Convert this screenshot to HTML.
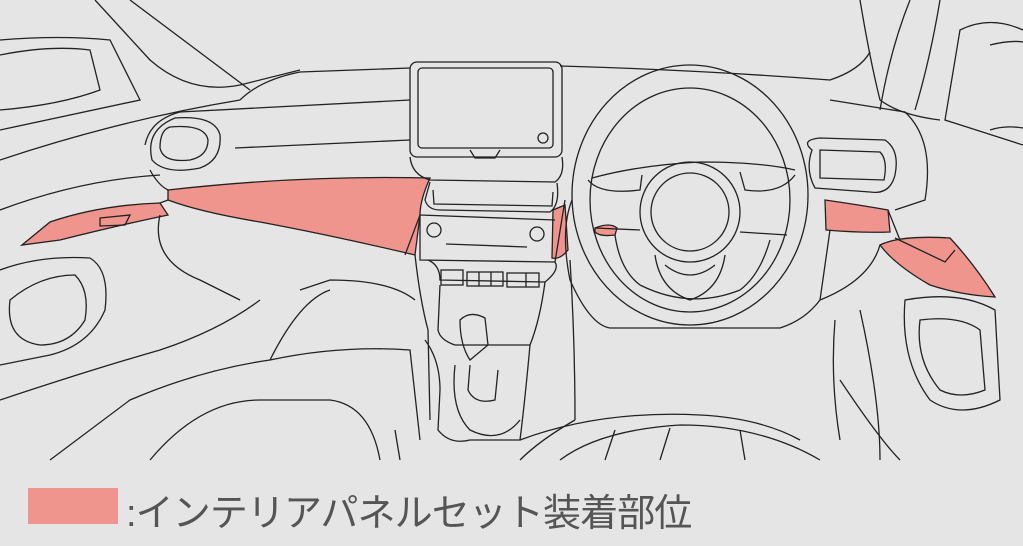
<!DOCTYPE html>
<html><head><meta charset="utf-8"><style>
html,body{margin:0;padding:0;background:#e5e5e5;width:1023px;height:546px;overflow:hidden}
svg{position:absolute;left:0;top:0}
.t{position:absolute;left:126px;top:482px;font:38px "Liberation Sans","Noto Sans CJK JP",sans-serif;color:#555;white-space:nowrap;letter-spacing:-0.9px}
.sw{position:absolute;left:28px;top:488px;width:90px;height:36px;background:#f0958d}
</style></head><body>
<svg width="1023" height="546" viewBox="0 0 1023 546" fill="none" stroke="#222" stroke-width="1.3">
<g fill="#f0958d" stroke="#222">
<path d="M168 190 Q300 175 430 178 Q420 200 420 215 L415 255 Q330 235 260 222 Q200 212 168 200 Z"/>
<path d="M22 245 L50 222 Q100 205 160 203 L168 215 Q120 225 60 240 Z"/>
<path d="M553 210 L565 205 L568 250 Q560 260 552 258 Z"/>
<path d="M595 228 Q610 222 617 228 L615 235 Q600 237 595 232 Z"/>
<path d="M825 200 Q860 205 888 210 L890 232 Q860 233 826 230 Z"/>
<path d="M880 245 Q900 235 950 238 Q975 265 995 297 Q960 295 930 285 Q895 265 880 245 Z"/>
</g>
<path d="M0 40 Q60 35 110 40 L140 100 L0 130"/>
<path d="M0 55 Q50 45 90 50 L100 90 Q60 105 0 110"/>
<path d="M95 0 L150 60 Q190 95 240 85 L300 70"/>
<path d="M130 0 L250 90"/>
<path d="M0 160 Q120 120 240 100"/>
<path d="M1023 30 Q990 15 960 30 L945 120 L1023 145"/>
<path d="M990 45 Q1010 40 1023 42"/>
<path d="M940 0 Q930 60 915 110"/>
<path d="M910 0 Q890 50 880 110"/>
<path d="M860 0 Q870 60 880 100 Q900 115 940 120"/>
<path d="M990 130 Q1005 125 1023 128"/>
<path d="M240 100 Q260 80 300 72 L410 68"/>
<path d="M560 66 Q700 70 830 80 Q860 70 870 52"/>
<path d="M145 145 Q150 120 180 112 L410 100"/>
<path d="M175 118 Q215 115 220 135 Q222 160 200 168 Q165 175 152 160 Q145 130 175 118 Z"/>
<path d="M170 127 Q205 124 208 140 Q208 156 190 160 Q163 163 160 148 Q160 130 170 127 Z"/>
<path d="M235 148 L410 140"/>
<path d="M150 170 Q158 185 168 190"/>
<path d="M0 210 Q80 180 160 175"/>
<path d="M168 200 L160 203"/>
<path d="M415 255 Q420 300 428 330 L430 420"/>
<path d="M420 215 L405 255"/>
<rect x="410" y="62" width="152" height="95" rx="7"/>
<rect x="418" y="68" width="135" height="80" rx="4"/>
<circle cx="543" cy="138" r="5"/>
<path d="M470 150 L475 158 L495 158 L500 150"/>
<path d="M410 157 Q412 175 430 180 L555 182 Q565 175 562 157"/>
<path d="M430 182 L425 200 Q428 210 440 210 L550 212 Q560 205 557 183"/>
<path d="M433 190 L434 204 L552 206 L553 192"/>
<path d="M420 215 Q420 250 420 260 L555 262 L565 200"/>
<path d="M420 215 L555 220"/>
<circle cx="434" cy="230" r="7"/><circle cx="537" cy="234" r="7"/>
<path d="M446 244 L527 247"/>
<path d="M428 260 Q440 265 440 280 L545 282 Q560 270 555 262"/>
<rect x="441" y="270" width="22" height="15"/><rect x="467" y="272" width="36" height="14"/>
<path d="M479 272 L479 286 M491 272 L491 286"/>
<rect x="507" y="273" width="32" height="14"/><path d="M526 273 L526 287"/>
<path d="M440 285 L438 330 Q440 340 455 345 L530 345 Q540 320 545 282"/>
<path d="M425 340 Q440 360 440 390 L438 430 Q450 445 470 440 L520 440 Q525 400 530 345"/>
<path d="M460 320 Q470 310 485 318 L488 345 L470 360 Q460 345 460 320 Z"/>
<path d="M470 365 L468 390 Q475 405 495 400 L498 370"/>
<path d="M455 365 Q450 410 470 430 Q500 445 520 420"/>
<ellipse cx="690" cy="195" rx="118" ry="130"/>
<ellipse cx="690" cy="200" rx="100" ry="112"/>
<circle cx="690" cy="212" r="50"/><circle cx="690" cy="212" r="39"/>
<path d="M592 178 Q640 165 700 162 Q760 162 795 170"/>
<path d="M588 180 Q600 195 640 190 L642 175"/>
<path d="M795 175 Q780 195 745 190 L740 172"/>
<path d="M595 228 L640 230"/>
<path d="M740 232 L787 235"/>
<path d="M615 235 Q620 270 640 285"/>
<path d="M770 240 Q760 275 740 290"/>
<path d="M655 255 Q660 290 690 300 Q720 290 725 255"/>
<path d="M665 265 Q690 285 715 265"/>
<path d="M640 285 Q690 310 740 290"/>
<path d="M572 200 Q560 230 570 280 Q590 325 610 328 L780 328 Q805 320 820 300 L830 230"/>
<path d="M812 150 Q800 140 820 138 L885 140 Q900 150 895 175 Q890 195 870 192 L815 188 Q805 170 812 150 Z"/>
<path d="M820 150 L880 152 Q888 160 884 180 L820 178 Z"/>
<path d="M830 100 L905 112 Q935 140 925 200 L895 210"/>
<path d="M888 210 L900 240"/>
<path d="M820 300 Q870 280 880 245"/>
<path d="M905 300 Q960 290 995 310 L1000 400 Q960 420 930 400 Q900 360 905 300 Z"/>
<path d="M920 320 Q960 315 980 330 L985 390 Q960 400 940 390 Q915 360 920 320 Z"/>
<path d="M895 238 L945 262 L955 250"/>
<path d="M860 310 Q880 400 880 460"/>
<path d="M840 380 Q880 440 900 460"/>
<path d="M100 218 L130 215 L125 225 L100 226 Z"/>
<path d="M0 270 Q40 255 90 258 Q110 270 105 310 Q90 345 50 355 L0 365"/>
<path d="M10 300 Q40 275 75 275 Q90 290 85 320 Q70 345 40 345 Q5 340 10 300 Z"/>
<path d="M160 215 Q150 260 200 280 L240 300"/>
<path d="M0 400 Q90 370 160 350 Q220 330 260 300"/>
<path d="M50 460 L130 400 Q200 370 270 360"/>
<path d="M300 290 L330 280 Q390 280 415 300"/>
<path d="M270 360 Q300 300 330 290"/>
<path d="M270 360 Q340 345 410 350 L420 440"/>
<path d="M150 460 Q200 400 260 400 L330 400 Q370 405 380 460"/>
<path d="M395 430 L400 460"/>
<path d="M575 420 Q540 440 520 460"/>
<path d="M520 440 Q600 410 700 415 Q760 418 800 440"/>
<path d="M560 460 Q600 430 680 425 Q760 425 820 460"/>
<path d="M570 260 Q575 340 575 420"/>
<path d="M835 320 Q830 380 840 440"/>
<path d="M605 460 L615 430 M660 460 L670 428 M745 460 L740 430"/>
</svg>
<div class="sw"></div>
<div class="t">:インテリアパネルセット装着部位</div>
</body></html>
